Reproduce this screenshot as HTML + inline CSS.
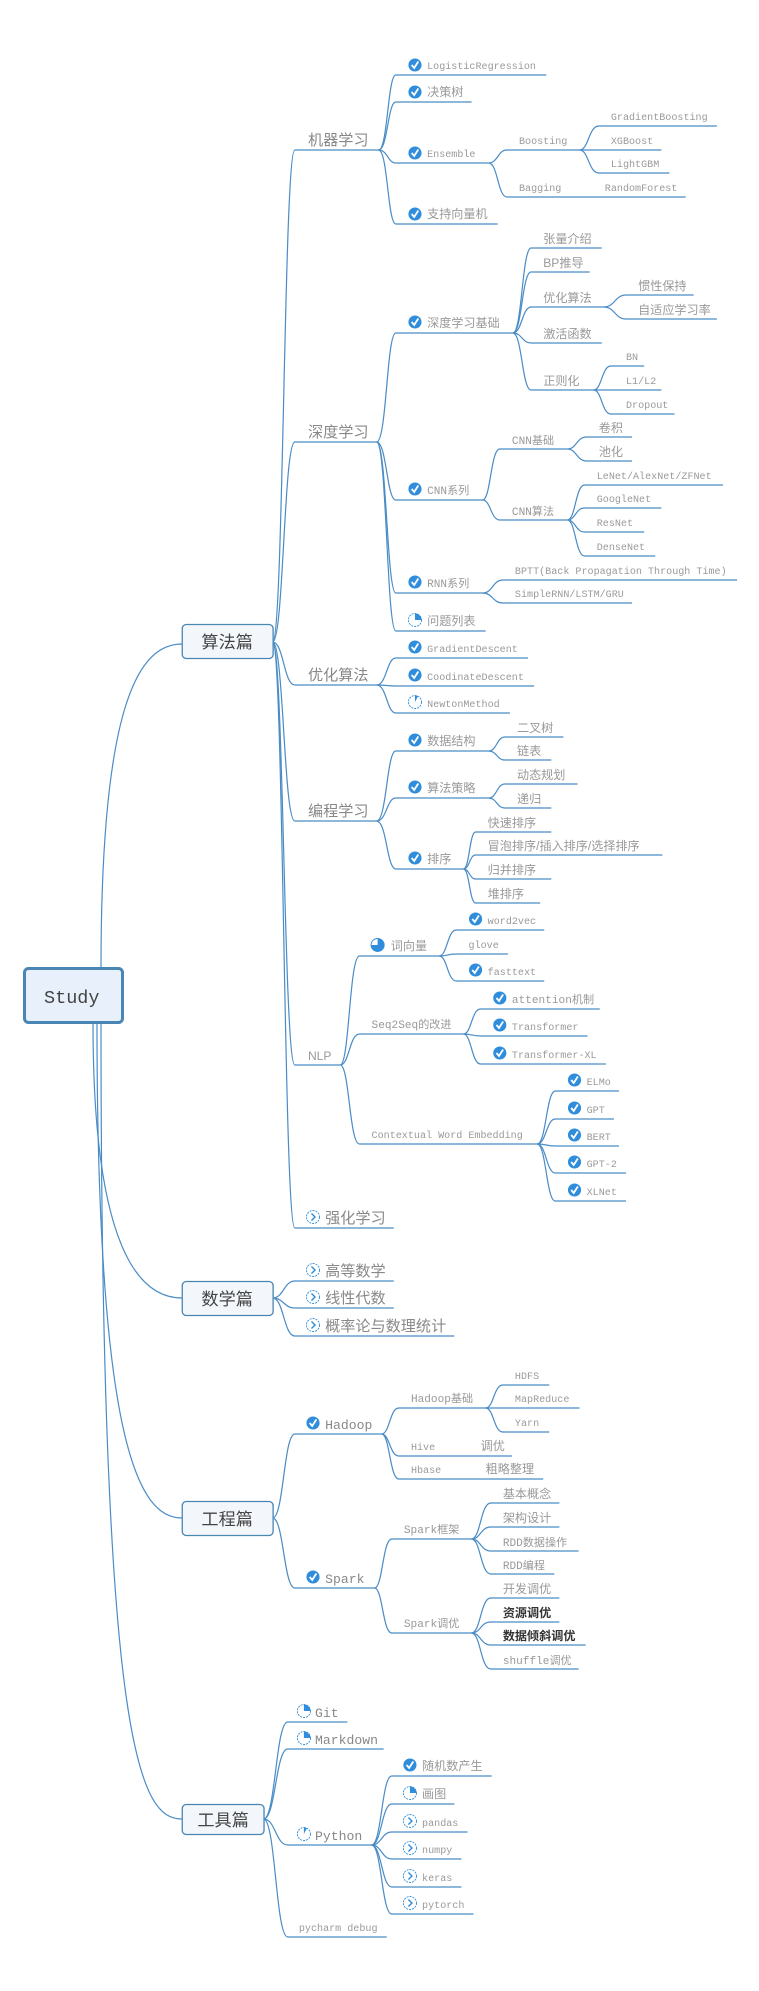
<!DOCTYPE html>
<html><head><meta charset="utf-8">
<style>
html,body{margin:0;padding:0;background:#fff;}
svg{display:block;}
.m{font-family:"Liberation Mono","Noto Sans CJK SC",monospace;font-size:10px;fill:#9a9a9a;}
.c{font-family:"Liberation Sans","Noto Sans CJK SC",sans-serif;font-size:12px;fill:#999;}
.c11{font-family:"Liberation Mono","Noto Sans CJK SC",monospace;font-size:11px;fill:#999;}
.l2{font-family:"Liberation Sans","Noto Sans CJK SC",sans-serif;font-size:15px;fill:#888;}
.l2m{font-family:"Liberation Mono","Noto Sans CJK SC",monospace;font-size:13px;fill:#888;}
.bx{font-family:"Liberation Sans","Noto Sans CJK SC",sans-serif;font-size:17px;fill:#444;}
.dk{font-family:"Liberation Sans","Noto Sans CJK SC",sans-serif;font-size:12px;fill:#333;font-weight:bold;}
path.k{fill:none;stroke:#4a8cc6;stroke-width:1.2;}
</style></head><body>
<svg width="759" height="1991" viewBox="0 0 759 1991" xmlns="http://www.w3.org/2000/svg">
<defs>
<g id="ck"><circle r="6.5" fill="#2f8ddb"/><path d="M-3.3 0 L-0.8 3 L3.3 -3.5" stroke="#fff" stroke-width="1.8" fill="none"/></g>
<g id="p1"><circle r="6.5" fill="#fff" stroke="#2f8ddb" stroke-width="0.9" stroke-dasharray="2 1"/><path d="M0 0 V-6.5 A6.5 6.5 0 0 1 6.5 0 Z" fill="#2f8ddb"/></g>
<g id="p0"><circle r="6.5" fill="#fff" stroke="#2f8ddb" stroke-width="0.9" stroke-dasharray="2 1"/><path d="M0 0 V-6.5 A6.5 6.5 0 0 1 3 -5.8 Z" fill="#2f8ddb"/></g>
<g id="p3"><circle r="6.5" fill="#fff" stroke="#2f8ddb" stroke-width="0.9"/><path d="M0 0 V-6.5 A6.5 6.5 0 1 1 -6.5 0 Z" fill="#2f8ddb"/></g>
<g id="ar"><circle r="6.5" fill="#fff" stroke="#2f8ddb" stroke-width="0.9" stroke-dasharray="2 1"/><path d="M-1.5 -3.5 L2 0 L-1.5 3.5" stroke="#2f8ddb" stroke-width="1.4" fill="none"/></g>
</defs>

<!-- root connectors -->
<path class="k" d="M101 968 C101 700 140 644 182 644"/>
<path class="k" d="M93 1023 C93 1250 140 1298 182 1298"/>
<path class="k" d="M97 1023 C97 1450 140 1518 182 1518"/>
<path class="k" d="M101 1023 C101 1750 140 1819 182 1819"/>
<rect x="24.5" y="968.5" width="98" height="54" rx="4" fill="#e8f1fb" stroke="#4a86b4" stroke-width="3"/>
<text x="44" y="1003" font-family="Liberation Mono,monospace" font-size="18.5" fill="#444">Study</text>

<g transform="scale(1.0097,1)">
<!-- boxes -->
<rect x="180.5" y="624.5" width="90" height="34" rx="4" fill="#f3f7fc" stroke="#4a86b4" stroke-width="1.3"/>
<text x="225" y="648" class="bx" text-anchor="middle">算法篇</text>
<rect x="180.5" y="1281.5" width="90" height="34" rx="4" fill="#f3f7fc" stroke="#4a86b4" stroke-width="1.3"/>
<text x="225" y="1305" class="bx" text-anchor="middle">数学篇</text>
<rect x="180.5" y="1501.5" width="90" height="34" rx="4" fill="#f3f7fc" stroke="#4a86b4" stroke-width="1.3"/>
<text x="225" y="1525" class="bx" text-anchor="middle">工程篇</text>
<rect x="180.5" y="1804.5" width="81" height="30" rx="4" fill="#f3f7fc" stroke="#4a86b4" stroke-width="1.3"/>
<text x="221" y="1826" class="bx" text-anchor="middle">工具篇</text>

<!-- 算法篇 level2 -->
<path class="k" d="M270 642 C281 642 281 150 292 150 H375"/><text x="305" y="145" class="l2">机器学习</text>
<path class="k" d="M270 642 C281 642 281 442 292 442 H373"/><text x="305" y="437" class="l2">深度学习</text>
<path class="k" d="M270 642 C281 642 281 685 292 685 H373"/><text x="305" y="680" class="l2">优化算法</text>
<path class="k" d="M270 642 C281 642 281 821 292 821 H373"/><text x="305" y="816" class="l2">编程学习</text>
<path class="k" d="M270 642 C281 642 281 1065 292 1065 H337"/><text x="305" y="1060" class="c">NLP</text>
<path class="k" d="M270 642 C281 642 281 1228 292 1228 H390"/><use href="#ar" x="310" y="1217"/><text x="322" y="1223" class="l2">强化学习</text>

<!-- 机器学习 -->
<path class="k" d="M375 150 C384 150 384 75 392 75 H541"/><use href="#ck" x="411" y="65"/><text x="423" y="69" class="m">LogisticRegression</text>
<path class="k" d="M375 150 C384 150 384 102 392 102 H467"/><use href="#ck" x="411" y="92"/><text x="423" y="96" class="c">决策树</text>
<path class="k" d="M375 150 C384 150 384 163 392 163 H484"/><use href="#ck" x="411" y="153"/><text x="423" y="157" class="m">Ensemble</text>
<path class="k" d="M375 150 C384 150 384 224 392 224 H493"/><use href="#ck" x="411" y="214"/><text x="423" y="218" class="c">支持向量机</text>
<path class="k" d="M484 163 C493 163 493 150 502 150 H574"/><text x="514" y="144" class="m">Boosting</text>
<path class="k" d="M484 163 C493 163 493 197 502 197 H679"/><text x="514" y="191" class="m">Bagging</text><text x="599" y="191" class="m">RandomForest</text>
<path class="k" d="M574 150 C583 150 583 126 593 126 H710"/><text x="605" y="120" class="m">GradientBoosting</text>
<path class="k" d="M574 150 C583 150 583 150 593 150 H655"/><text x="605" y="144" class="m">XGBoost</text>
<path class="k" d="M574 150 C583 150 583 173 593 173 H663"/><text x="605" y="167" class="m">LightGBM</text>

<!-- 深度学习 -->
<path class="k" d="M373 442 C383 442 383 333 392 333 H508"/><use href="#ck" x="411" y="322"/><text x="423" y="327" class="c">深度学习基础</text>
<path class="k" d="M373 442 C383 442 383 500 392 500 H478"/><use href="#ck" x="411" y="489"/><text x="423" y="494" class="c11">CNN系列</text>
<path class="k" d="M373 442 C383 442 383 593 392 593 H478"/><use href="#ck" x="411" y="582"/><text x="423" y="587" class="c11">RNN系列</text>
<path class="k" d="M373 442 C383 442 383 631 392 631 H481"/><use href="#p1" x="411" y="620"/><text x="423" y="625" class="c">问题列表</text>

<path class="k" d="M508 333 C517 333 517 248 526 248 H596"/><text x="538" y="243" class="c">张量介绍</text>
<path class="k" d="M508 333 C517 333 517 272 526 272 H584"/><text x="538" y="267" class="c">BP推导</text>
<path class="k" d="M508 333 C517 333 517 307 526 307 H598"/><text x="538" y="302" class="c">优化算法</text>
<path class="k" d="M508 333 C517 333 517 343 526 343 H596"/><text x="538" y="338" class="c">激活函数</text>
<path class="k" d="M508 333 C517 333 517 390 526 390 H588"/><text x="538" y="385" class="c">正则化</text>
<path class="k" d="M598 307 C609 307 609 295 620 295 H687"/><text x="632" y="290" class="c">惯性保持</text>
<path class="k" d="M598 307 C609 307 609 319 620 319 H710"/><text x="632" y="314" class="c">自适应学习率</text>
<path class="k" d="M588 390 C596 390 596 366 605 366 H638"/><text x="620" y="360" class="m">BN</text>
<path class="k" d="M588 390 C596 390 596 390 605 390 H655"/><text x="620" y="384" class="m">L1/L2</text>
<path class="k" d="M588 390 C596 390 596 414 605 414 H668"/><text x="620" y="408" class="m">Dropout</text>

<path class="k" d="M478 500 C486 500 486 449 495 449 H562"/><text x="507" y="444" class="c11">CNN基础</text>
<path class="k" d="M478 500 C486 500 486 520 495 520 H562"/><text x="507" y="515" class="c11">CNN算法</text>
<path class="k" d="M562 449 C571 449 571 437 581 437 H626"/><text x="593" y="432" class="c">卷积</text>
<path class="k" d="M562 449 C571 449 571 461 581 461 H626"/><text x="593" y="456" class="c">池化</text>
<path class="k" d="M562 520 C570 520 570 485 579 485 H716"/><text x="591" y="479" class="m">LeNet/AlexNet/ZFNet</text>
<path class="k" d="M562 520 C570 520 570 508 579 508 H655"/><text x="591" y="502" class="m">GoogleNet</text>
<path class="k" d="M562 520 C570 520 570 532 579 532 H638"/><text x="591" y="526" class="m">ResNet</text>
<path class="k" d="M562 520 C570 520 570 556 579 556 H649"/><text x="591" y="550" class="m">DenseNet</text>
<path class="k" d="M478 593 C488 593 488 580 498 580 H730"/><text x="510" y="574" class="m">BPTT(Back Propagation Through Time)</text>
<path class="k" d="M478 593 C488 593 488 603 498 603 H626"/><text x="510" y="597" class="m">SimpleRNN/LSTM/GRU</text>

<!-- 优化算法 -->
<path class="k" d="M373 685 C383 685 383 658 392 658 H523"/><use href="#ck" x="411" y="647"/><text x="423" y="652" class="m">GradientDescent</text>
<path class="k" d="M373 685 C383 685 383 686 392 686 H529"/><use href="#ck" x="411" y="675"/><text x="423" y="680" class="m">CoodinateDescent</text>
<path class="k" d="M373 685 C383 685 383 713 392 713 H505"/><use href="#p0" x="411" y="702"/><text x="423" y="707" class="m">NewtonMethod</text>

<!-- 编程学习 -->
<path class="k" d="M373 821 C383 821 383 751 392 751 H484"/><use href="#ck" x="411" y="740"/><text x="423" y="745" class="c">数据结构</text>
<path class="k" d="M373 821 C383 821 383 798 392 798 H484"/><use href="#ck" x="411" y="787"/><text x="423" y="792" class="c">算法策略</text>
<path class="k" d="M373 821 C383 821 383 869 392 869 H459"/><use href="#ck" x="411" y="858"/><text x="423" y="863" class="c">排序</text>
<path class="k" d="M484 751 C492 751 492 737 500 737 H558"/><text x="512" y="732" class="c">二叉树</text>
<path class="k" d="M484 751 C492 751 492 760 500 760 H546"/><text x="512" y="755" class="c">链表</text>
<path class="k" d="M484 798 C492 798 492 784 500 784 H572"/><text x="512" y="779" class="c">动态规划</text>
<path class="k" d="M484 798 C492 798 492 808 500 808 H546"/><text x="512" y="803" class="c">递归</text>
<path class="k" d="M459 869 C465 869 465 832 471 832 H546"/><text x="483" y="827" class="c">快速排序</text>
<path class="k" d="M459 869 C465 869 465 855 471 855 H656"/><text x="483" y="850" class="c">冒泡排序/插入排序/选择排序</text>
<path class="k" d="M459 869 C465 869 465 879 471 879 H546"/><text x="483" y="874" class="c">归并排序</text>
<path class="k" d="M459 869 C465 869 465 903 471 903 H535"/><text x="483" y="898" class="c">堆排序</text>

<!-- NLP -->
<path class="k" d="M337 1065 C346 1065 346 956 356 956 H435"/><use href="#p3" x="374" y="945"/><text x="387" y="950" class="c">词向量</text>
<path class="k" d="M337 1065 C346 1065 346 1034 356 1034 H459"/><text x="368" y="1028" class="c11">Seq2Seq的改进</text>
<path class="k" d="M337 1065 C346 1065 346 1144 356 1144 H532"/><text x="368" y="1138" class="m">Contextual Word Embedding</text>
<path class="k" d="M435 956 C443 956 443 930 452 930 H539"/><use href="#ck" x="471" y="919"/><text x="483" y="924" class="m">word2vec</text>
<path class="k" d="M435 956 C443 956 443 954 452 954 H503"/><text x="464" y="948" class="m">glove</text>
<path class="k" d="M435 956 C443 956 443 981 452 981 H539"/><use href="#ck" x="471" y="970"/><text x="483" y="975" class="m">fasttext</text>
<path class="k" d="M459 1034 C467 1034 467 1009 476 1009 H594"/><use href="#ck" x="495" y="998"/><text x="507" y="1003" class="c11">attention机制</text>
<path class="k" d="M459 1034 C467 1034 467 1036 476 1036 H582"/><use href="#ck" x="495" y="1025"/><text x="507" y="1030" class="m">Transformer</text>
<path class="k" d="M459 1034 C467 1034 467 1064 476 1064 H600"/><use href="#ck" x="495" y="1053"/><text x="507" y="1058" class="m">Transformer-XL</text>
<path class="k" d="M532 1144 C541 1144 541 1091 550 1091 H613"/><use href="#ck" x="569" y="1080"/><text x="581" y="1085" class="m">ELMo</text>
<path class="k" d="M532 1144 C541 1144 541 1119 550 1119 H608"/><use href="#ck" x="569" y="1108"/><text x="581" y="1113" class="m">GPT</text>
<path class="k" d="M532 1144 C541 1144 541 1146 550 1146 H613"/><use href="#ck" x="569" y="1135"/><text x="581" y="1140" class="m">BERT</text>
<path class="k" d="M532 1144 C541 1144 541 1173 550 1173 H620"/><use href="#ck" x="569" y="1162"/><text x="581" y="1167" class="m">GPT-2</text>
<path class="k" d="M532 1144 C541 1144 541 1201 550 1201 H620"/><use href="#ck" x="569" y="1190"/><text x="581" y="1195" class="m">XLNet</text>

<!-- 数学篇 -->
<path class="k" d="M270 1298 C281 1298 281 1281 292 1281 H390"/><use href="#ar" x="310" y="1270"/><text x="322" y="1276" class="l2">高等数学</text>
<path class="k" d="M270 1298 C281 1298 281 1308 292 1308 H390"/><use href="#ar" x="310" y="1297"/><text x="322" y="1303" class="l2">线性代数</text>
<path class="k" d="M270 1298 C281 1298 281 1336 292 1336 H450"/><use href="#ar" x="310" y="1325"/><text x="322" y="1331" class="l2">概率论与数理统计</text>

<!-- 工程篇 -->
<path class="k" d="M270 1518 C281 1518 281 1434 292 1434 H378"/><use href="#ck" x="310" y="1423"/><text x="322" y="1429" class="l2m">Hadoop</text>
<path class="k" d="M270 1518 C281 1518 281 1588 292 1588 H371"/><use href="#ck" x="310" y="1577"/><text x="322" y="1583" class="l2m">Spark</text>
<path class="k" d="M378 1434 C386 1434 386 1408 395 1408 H481"/><text x="407" y="1402" class="c11">Hadoop基础</text>
<path class="k" d="M378 1434 C386 1434 386 1456 395 1456 H507"/><text x="407" y="1450" class="m">Hive</text><text x="476" y="1450" class="c">调优</text>
<path class="k" d="M378 1434 C386 1434 386 1479 395 1479 H538"/><text x="407" y="1473" class="m">Hbase</text><text x="481" y="1473" class="c">粗略整理</text>
<path class="k" d="M481 1408 C489 1408 489 1385 498 1385 H544"/><text x="510" y="1379" class="m">HDFS</text>
<path class="k" d="M481 1408 C489 1408 489 1408 498 1408 H574"/><text x="510" y="1402" class="m">MapReduce</text>
<path class="k" d="M481 1408 C489 1408 489 1432 498 1432 H544"/><text x="510" y="1426" class="m">Yarn</text>
<path class="k" d="M371 1588 C379 1588 379 1539 388 1539 H467"/><text x="400" y="1533" class="c11">Spark框架</text>
<path class="k" d="M371 1588 C379 1588 379 1633 388 1633 H467"/><text x="400" y="1627" class="c11">Spark调优</text>
<path class="k" d="M467 1539 C476 1539 476 1503 486 1503 H554"/><text x="498" y="1498" class="c">基本概念</text>
<path class="k" d="M467 1539 C476 1539 476 1527 486 1527 H554"/><text x="498" y="1522" class="c">架构设计</text>
<path class="k" d="M467 1539 C476 1539 476 1551 486 1551 H573"/><text x="498" y="1546" class="c11">RDD数据操作</text>
<path class="k" d="M467 1539 C476 1539 476 1574 486 1574 H549"/><text x="498" y="1569" class="c11">RDD编程</text>
<path class="k" d="M467 1633 C476 1633 476 1598 486 1598 H554"/><text x="498" y="1593" class="c">开发调优</text>
<path class="k" d="M467 1633 C476 1633 476 1622 486 1622 H554"/><text x="498" y="1617" class="dk">资源调优</text>
<path class="k" d="M467 1633 C476 1633 476 1645 486 1645 H580"/><text x="498" y="1640" class="dk">数据倾斜调优</text>
<path class="k" d="M467 1633 C476 1633 476 1669 486 1669 H573"/><text x="498" y="1664" class="c11">shuffle调优</text>

<!-- 工具篇 -->
<path class="k" d="M261 1819 C273 1819 273 1722 285 1722 H344"/><use href="#p1" x="301" y="1711"/><text x="312" y="1717" class="l2m">Git</text>
<path class="k" d="M261 1819 C273 1819 273 1749 285 1749 H380"/><use href="#p1" x="301" y="1738"/><text x="312" y="1744" class="l2m">Markdown</text>
<path class="k" d="M261 1819 C273 1819 273 1845 285 1845 H368"/><use href="#p0" x="301" y="1834"/><text x="312" y="1840" class="l2m">Python</text>
<path class="k" d="M261 1819 C273 1819 273 1937 285 1937 H383"/><text x="296" y="1931" class="m">pycharm debug</text>
<path class="k" d="M368 1845 C378 1845 378 1776 388 1776 H487"/><use href="#ck" x="406" y="1765"/><text x="418" y="1770" class="c">随机数产生</text>
<path class="k" d="M368 1845 C378 1845 378 1804 388 1804 H450"/><use href="#p1" x="406" y="1793"/><text x="418" y="1798" class="c">画图</text>
<path class="k" d="M368 1845 C378 1845 378 1832 388 1832 H463"/><use href="#ar" x="406" y="1821"/><text x="418" y="1826" class="m">pandas</text>
<path class="k" d="M368 1845 C378 1845 378 1859 388 1859 H457"/><use href="#ar" x="406" y="1848"/><text x="418" y="1853" class="m">numpy</text>
<path class="k" d="M368 1845 C378 1845 378 1887 388 1887 H457"/><use href="#ar" x="406" y="1876"/><text x="418" y="1881" class="m">keras</text>
<path class="k" d="M368 1845 C378 1845 378 1914 388 1914 H469"/><use href="#ar" x="406" y="1903"/><text x="418" y="1908" class="m">pytorch</text>
</g>
</svg>
</body></html>
